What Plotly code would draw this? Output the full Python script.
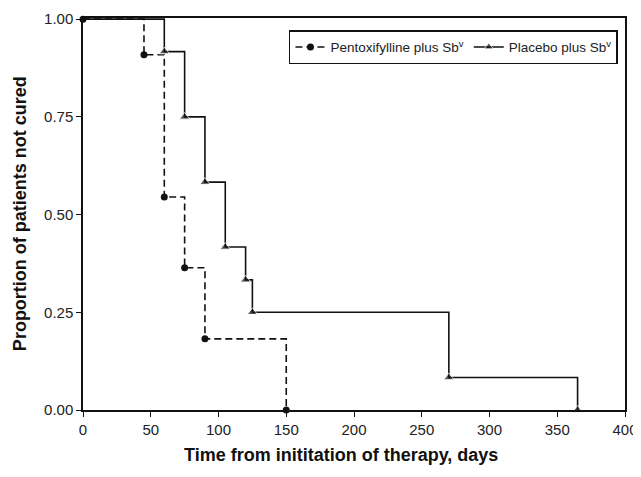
import plotly.graph_objects as go

# Kaplan-Meier step data
pentox_days = [0, 45, 60, 75, 90, 150]
pentox_prop = [1.0, 0.909, 0.545, 0.364, 0.182, 0.0]
placebo_days = [0, 60, 75, 90, 105, 120, 125, 270, 365]
placebo_prop = [1.0, 0.917, 0.75, 0.583, 0.417, 0.333, 0.25, 0.083, 0.0]
series_names = ["Pentoxifylline plus Sb<sup>v</sup>", "Placebo plus Sb<sup>v</sup>"]
x_ticks = [0, 50, 100, 150, 200, 250, 300, 350, 400]
y_ticks = [0.0, 0.25, 0.5, 0.75, 1.0]
y_tick_text = ["0.00", "0.25", "0.50", "0.75", "1.00"]
x_title = "<b>Time from inititation of therapy, days</b>"
y_title = "<b>Proportion of patients not cured</b>"

FONT = "Arial, 'Liberation Sans', sans-serif"

fig = go.Figure()
fig.add_trace(go.Scatter(
    x=pentox_days, y=pentox_prop, name=series_names[0],
    mode="lines+markers", line=dict(shape="hv", color="#111", width=1.6, dash="7px,4px"),
    marker=dict(symbol="circle", size=7, color="#111"),
    cliponaxis=False,
))
fig.add_trace(go.Scatter(
    x=placebo_days, y=placebo_prop, name=series_names[1],
    mode="lines+markers", line=dict(shape="hv", color="#111", width=1.6),
    marker=dict(symbol="triangle-up", size=[0] + [9] * (len(placebo_days) - 1), color="#111"),
    cliponaxis=False,
))

fig.update_layout(
    width=633, height=469,
    margin=dict(l=75, r=16, t=10, b=67),
    paper_bgcolor="white", plot_bgcolor="white",
    font=dict(family=FONT, color="#222", size=13),
    showlegend=True,
    legend=dict(
        orientation="h", x=0.987, xanchor="right", y=0.969, yanchor="top",
        bordercolor="#111", borderwidth=1.5, bgcolor="white",
        font=dict(family=FONT, size=13.5, color="#222"),
        itemwidth=30,
    ),
    xaxis=dict(
        range=[0, 400], tickvals=x_ticks, ticks="outside", ticklen=5, tickwidth=1.2,
        tickcolor="#111", showline=True, linecolor="#111", linewidth=1.5, mirror=True,
        showgrid=False, zeroline=False, tickfont=dict(size=15, family=FONT),
        automargin=False,
    ),
    yaxis=dict(
        range=[0, 1.003], tickvals=y_ticks, ticktext=y_tick_text, ticks="outside", ticklen=5,
        tickwidth=1.2, tickcolor="#111", showline=True, linecolor="#111", linewidth=1.5,
        mirror=True, showgrid=False, zeroline=False, tickfont=dict(size=15, family=FONT),
        automargin=False,
    ),
    annotations=[
        dict(text=x_title, xref="paper", yref="paper", x=0.476, y=-0.1148,
             xanchor="center", yanchor="middle", showarrow=False,
             font=dict(size=18, family=FONT, color="#111")),
        dict(text=y_title, xref="paper", yref="paper", x=-0.116, y=0.5,
             xanchor="center", yanchor="middle", showarrow=False, textangle=-90,
             font=dict(size=18, family=FONT, color="#111")),
    ],
)

fig.write_html("out.html")
